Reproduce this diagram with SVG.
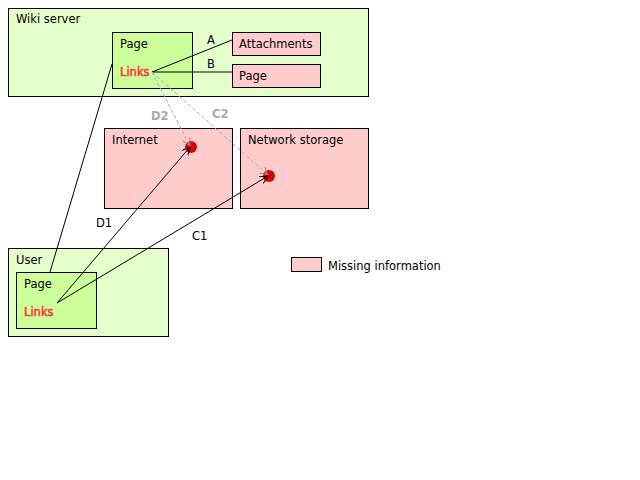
<svg xmlns="http://www.w3.org/2000/svg" width="640" height="480" viewBox="0 0 640 480">
<style>
text{font-family:"DejaVu Sans","Liberation Sans",sans-serif;font-size:11.5px;fill:#000}
.outer{fill:#e5ffcc;stroke:#000;stroke-width:1}
.page{fill:#ccff99;stroke:#000;stroke-width:1}
.miss{fill:#ffcccc;stroke:#000;stroke-width:1}
.links{fill:#ff3333;stroke:#ff3333;stroke-width:0.5}
.gl{fill:#aaaaaa;font-weight:bold}
.c{stroke:#000;stroke-width:1;fill:none}
.d{stroke:#aaaaaa;stroke-width:1;fill:none;stroke-dasharray:4,2}
.dot{fill:#dd0000}
</style>
<defs>
<marker id="ab" markerWidth="10" markerHeight="10" refX="8" refY="4" orient="auto" markerUnits="userSpaceOnUse">
<polyline points="0,0 8,4 0,8" fill="none" stroke="#000" stroke-width="1"/>
</marker>
<marker id="ag" markerWidth="10" markerHeight="10" refX="8" refY="4" orient="auto" markerUnits="userSpaceOnUse">
<polyline points="0,0 8,4 0,8" fill="none" stroke="#888" stroke-width="1"/>
</marker>
</defs>
<g id="wiki-server">
<rect class="outer" x="8.5" y="8.5" width="360" height="88"/>
<text x="16" y="23">Wiki server</text>
</g>
<g id="wiki-page">
<rect class="page" x="112.5" y="32.5" width="80" height="56"/>
<text x="120" y="48">Page</text>
<text class="links" x="120" y="76">Links</text>
</g>
<g id="attachments">
<rect class="miss" x="232.5" y="32.5" width="88" height="23"/>
<text x="239" y="48">Attachments</text>
</g>
<g id="page-b">
<rect class="miss" x="232.5" y="64.5" width="88" height="23"/>
<text x="239" y="80">Page</text>
</g>
<g id="internet">
<rect class="miss" x="104.5" y="128.5" width="128" height="80"/>
<text x="112" y="144">Internet</text>
<circle class="dot" cx="191" cy="147" r="6"/>
</g>
<g id="network-storage">
<rect class="miss" x="240.5" y="128.5" width="128" height="80"/>
<text x="248" y="144">Network storage</text>
<circle class="dot" cx="269" cy="176" r="6"/>
</g>
<g id="user">
<rect class="outer" x="8.5" y="248.5" width="160" height="88"/>
<text x="16" y="264">User</text>
</g>
<g id="user-page">
<rect class="page" x="16.5" y="272.5" width="80" height="56"/>
<text x="24" y="288">Page</text>
<text class="links" x="24" y="316">Links</text>
</g>
<g id="legend">
<rect class="miss" x="291.5" y="257.5" width="30" height="14"/>
<text x="328" y="270">Missing information</text>
</g>
<g id="connectors">
<line class="c" x1="152" y1="72" x2="232" y2="40"/>
<line class="c" x1="152" y1="72" x2="232" y2="72"/>
<line class="c" x1="50" y1="272" x2="112" y2="64"/>
<line class="d" x1="152" y1="72" x2="190" y2="146" marker-end="url(#ag)"/>
<line class="d" x1="152" y1="72" x2="268" y2="175" marker-end="url(#ag)"/>
<line class="c" x1="57" y1="303" x2="190" y2="147" marker-end="url(#ab)"/>
<line class="c" x1="57" y1="303" x2="268" y2="176" marker-end="url(#ab)"/>
<text x="207" y="44">A</text>
<text x="207" y="68">B</text>
<text class="gl" x="151" y="120">D2</text>
<text class="gl" x="212" y="118">C2</text>
<text x="96" y="227">D1</text>
<text x="192" y="240">C1</text>
</g>
</svg>
